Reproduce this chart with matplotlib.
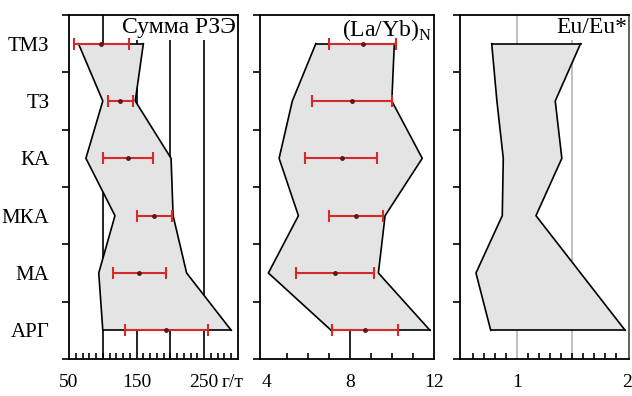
import numpy as np
import matplotlib
matplotlib.use('Agg')
import matplotlib.pyplot as plt

plt.rcParams['font.family'] = ['Liberation Serif', 'DejaVu Serif']
plt.rcParams['mathtext.fontset'] = 'custom'
plt.rcParams['mathtext.rm'] = 'Liberation Serif'

categories = ['ТМЗ', 'ТЗ', 'КА', 'МКА', 'МА', 'АРГ']

# Сумма РЗЭ, г/т
ree_min = [64, 100, 75, 118, 94, 100]
ree_max = [160, 148, 201, 204, 224, 290]
ree_mean = [98, 125, 137, 175, 154, 194]
ree_lo = [57, 107, 101, 150, 115, 133]
ree_hi = [139, 144, 174, 202, 193, 256]

# (La/Yb)N
layb_min = [6.37, 5.25, 4.62, 5.54, 4.11, 7.10]
layb_max = [10.11, 9.99, 11.44, 9.67, 9.35, 11.81]
layb_mean = [8.63, 8.11, 7.60, 8.29, 7.29, 8.71]
layb_lo = [7.01, 6.20, 5.86, 7.00, 5.43, 7.13]
layb_hi = [10.19, 10.01, 9.30, 9.59, 9.14, 10.27]

# Eu/Eu*
eu_min = [0.773, 0.82, 0.878, 0.869, 0.63, 0.764]
eu_max = [1.58, 1.35, 1.41, 1.175, 1.58, 1.985]

y = np.arange(len(categories)) + 0.5

fig = plt.figure(figsize=(6.32, 3.96), dpi=100)
ax1 = fig.add_axes([69/632, 37/396, 169/632, 344/396])
ax2 = fig.add_axes([260/632, 37/396, 174/632, 344/396])
ax3 = fig.add_axes([460/632, 37/396, 169/632, 344/396])

red = '#d42a2a'
tick_pad = 11
tick_size = 14


def panel(ax, vmin, vmax, mean=None, lo=None, hi=None):
    ax.fill_betweenx(y, vmin, vmax, facecolor='#e4e4e4', edgecolor='none', zorder=2)
    ax.plot(vmin, y, color='black', lw=1.2, zorder=3)
    ax.plot(vmax, y, color='black', lw=1.2, zorder=3)
    ax.plot([vmin[0], vmax[0]], [y[0], y[0]], color='black', lw=1.2, zorder=3)
    ax.plot([vmin[-1], vmax[-1]], [y[-1], y[-1]], color='black', lw=1.2, zorder=3)
    if mean is not None:
        mean = np.array(mean)
        xerr = [mean - np.array(lo), np.array(hi) - mean]
        ax.errorbar(mean, y, xerr=xerr, fmt='o', ms=2.5, color='#5a1a1a',
                    ecolor=red, elinewidth=1.5, capsize=4, capthick=1.5, zorder=4)
    ax.set_ylim(6, 0)
    ax.set_yticks(np.arange(0, 7))
    ax.set_yticklabels([])
    ax.tick_params(axis='y', direction='out', length=5, width=1.2)
    ax.tick_params(axis='x', which='major', length=0, pad=tick_pad, labelsize=tick_size)
    ax.tick_params(axis='x', which='minor', direction='in', length=4, width=1.2)
    for s in ax.spines.values():
        s.set_linewidth(1.3)
        s.set_zorder(6)


def title(ax, s):
    ax.text(0.99, 0.993, s, transform=ax.transAxes, ha='right', va='top',
            fontsize=17, zorder=1.5,
            bbox=dict(facecolor='white', edgecolor='none', pad=1))


# panel 1
panel(ax1, ree_min, ree_max, ree_mean, ree_lo, ree_hi)
ax1.set_xlim(50, 300)
for g in [100, 150, 200, 250]:
    ax1.axvline(g, color='black', lw=1.2, zorder=1)
ax1.set_xticks([50, 150, 250])
ax1.set_xticklabels(['50', '150', '250'])
ax1.set_xticks(np.arange(60, 300, 10), minor=True)
ax1.set_yticks(y, minor=True)
ax1.set_yticklabels(categories, minor=True, fontsize=15)
ax1.tick_params(axis='y', which='minor', length=0, pad=14)
ax1.annotate('г/т', xy=(276, 0), xycoords=('data', 'axes fraction'),
             xytext=(0, -tick_pad), textcoords='offset points',
             fontsize=tick_size, ha='left', va='top', annotation_clip=False)
title(ax1, 'Сумма РЗЭ')

# panel 2
panel(ax2, layb_min, layb_max, layb_mean, layb_lo, layb_hi)
ax2.set_xlim(3.71, 12)
ax2.axvline(8, color='black', lw=1.2, zorder=1)
ax2.set_xticks([4, 8, 12])
ax2.set_xticklabels(['4', '8', '12'])
ax2.set_xticks([5, 6, 7, 9, 10, 11], minor=True)
title(ax2, '(La/Yb)$_{\\rm N}$')

# panel 3
panel(ax3, eu_min, eu_max)
ax3.set_xlim(0.485, 2.02)
for g in [1, 1.5]:
    ax3.axvline(g, color='#b4b4b4', lw=1.2, zorder=1)
ax3.set_xticks([1, 2])
ax3.set_xticklabels(['1', '2'])
ax3.set_xticks(np.arange(0.6, 1.95, 0.1), minor=True)
ax3.spines['right'].set_color('#555555')
title(ax3, 'Eu/Eu*')

fig.savefig('out.png', dpi=100)
